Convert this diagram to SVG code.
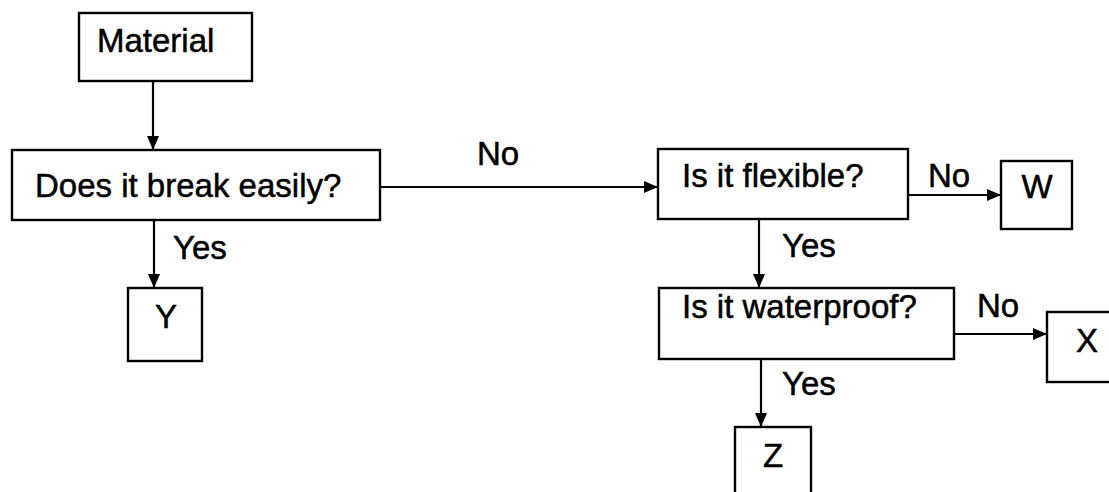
<svg xmlns="http://www.w3.org/2000/svg" width="1109" height="492" viewBox="0 0 1109 492">
<style>
.box{fill:#fff;stroke:#000;stroke-width:2.4}
.t{font-family:"Liberation Sans",Arial,sans-serif;font-size:33px;fill:#000;stroke:#000;stroke-width:0.5}
.c{text-anchor:middle}
.ln{fill:none;stroke:#000;stroke-width:2.2;marker-end:url(#ah)}
</style>
<defs>
<marker id="ah" viewBox="0 0 14 12" refX="14" refY="6" markerWidth="14" markerHeight="12" markerUnits="userSpaceOnUse" orient="auto">
<path d="M0,0 L14,6 L0,12 Z" fill="#000"/>
</marker>
</defs>
<rect width="1109" height="492" fill="#fff"/>
<g id="connectors">
<path class="ln" d="M153,81 V150"/>
<path class="ln" d="M380,187 H658"/>
<path class="ln" d="M154,220 V288"/>
<path class="ln" d="M908,195 H1001"/>
<path class="ln" d="M759,219 V288"/>
<path class="ln" d="M954,334 H1047"/>
<path class="ln" d="M761,359 V427"/>
<text class="t" x="477" y="165">No</text>
<text class="t" x="173" y="259">Yes</text>
<text class="t" x="928" y="187">No</text>
<text class="t" x="782" y="257">Yes</text>
<text class="t" x="977" y="317">No</text>
<text class="t" x="782" y="395">Yes</text>
</g>
<g id="material">
<rect class="box" x="79" y="13" width="173" height="68"/>
<text class="t" x="97" y="52">Material</text>
</g>
<g id="break">
<rect class="box" x="12" y="150" width="368" height="70"/>
<text class="t" x="35" y="197">Does it break easily?</text>
</g>
<g id="Y">
<rect class="box" x="128" y="288" width="74" height="73"/>
<text class="t c" x="166" y="328">Y</text>
</g>
<g id="flexible">
<rect class="box" x="658" y="149" width="250" height="70"/>
<text class="t" x="682" y="187">Is it flexible?</text>
</g>
<g id="W">
<rect class="box" x="1001" y="161" width="71" height="68"/>
<text class="t c" x="1037" y="198">W</text>
</g>
<g id="waterproof">
<rect class="box" x="659" y="288" width="295" height="71"/>
<text class="t" x="682" y="318">Is it waterproof?</text>
</g>
<g id="X">
<rect class="box" x="1047" y="312" width="80" height="70"/>
<text class="t c" x="1087" y="352">X</text>
</g>
<g id="Z">
<rect class="box" x="735" y="427" width="76" height="80"/>
<text class="t c" x="773" y="467">Z</text>
</g>
</svg>
